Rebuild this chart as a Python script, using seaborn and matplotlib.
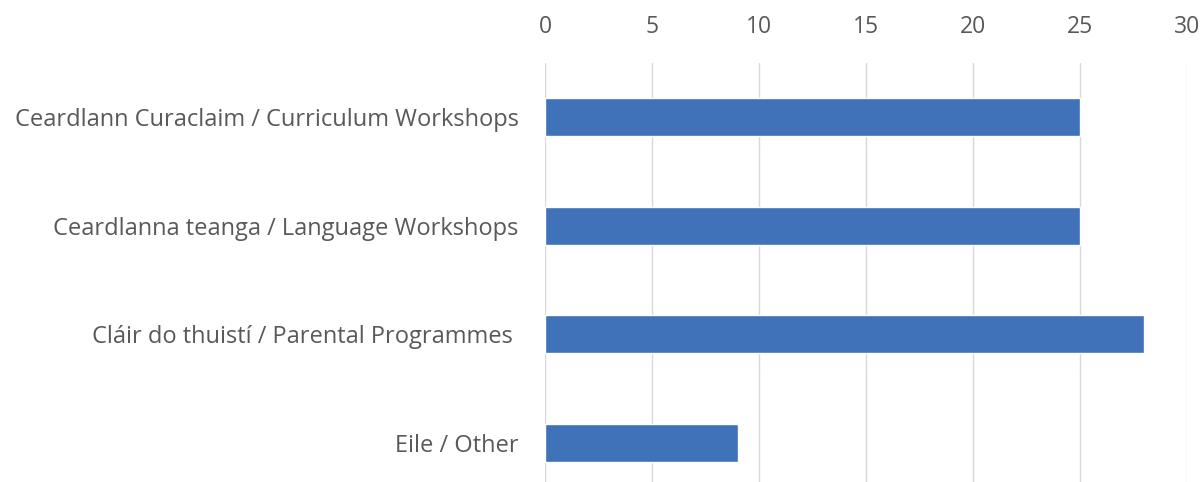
import matplotlib
matplotlib.use("Agg")
import matplotlib.pyplot as plt
import seaborn as sns
import pandas as pd

categories = ["Ceardlann Curaclaim / Curriculum Workshops",
              "Ceardlanna teanga / Language Workshops",
              "Cláir do thuistí / Parental Programmes ",
              "Eile / Other"]
values = [25, 25, 28, 9]
xticks = [0, 5, 10, 15, 20, 25, 30]

df = pd.DataFrame({"category": categories, "value": values})

sns.set_style("white")
plt.rcParams['font.family'] = ['Open Sans', 'DejaVu Sans']

fig = plt.figure(figsize=(12.03, 4.82), dpi=100)
ax = fig.add_axes([0.453, -0.032, 0.5337, 0.902])

sns.barplot(data=df, x="value", y="category", color="#3F72B8", width=0.35,
            saturation=1, ax=ax, zorder=3)

ax.set_xlim(0, 30)
ax.set_ylim(3.5, -0.5)
ax.set_xticks(xticks)
ax.xaxis.tick_top()
ax.tick_params(axis='x', length=0, pad=17, labelsize=16.5, labelcolor="#595959")
ax.tick_params(axis='y', length=0, pad=19, labelsize=17, labelcolor="#595959")
ax.grid(axis='x', color="#d9d9d9", linewidth=1, zorder=0)
ax.set_xlabel("")
ax.set_ylabel("")
for s in ax.spines.values():
    s.set_visible(False)

fig.savefig("out.png", dpi=100)
